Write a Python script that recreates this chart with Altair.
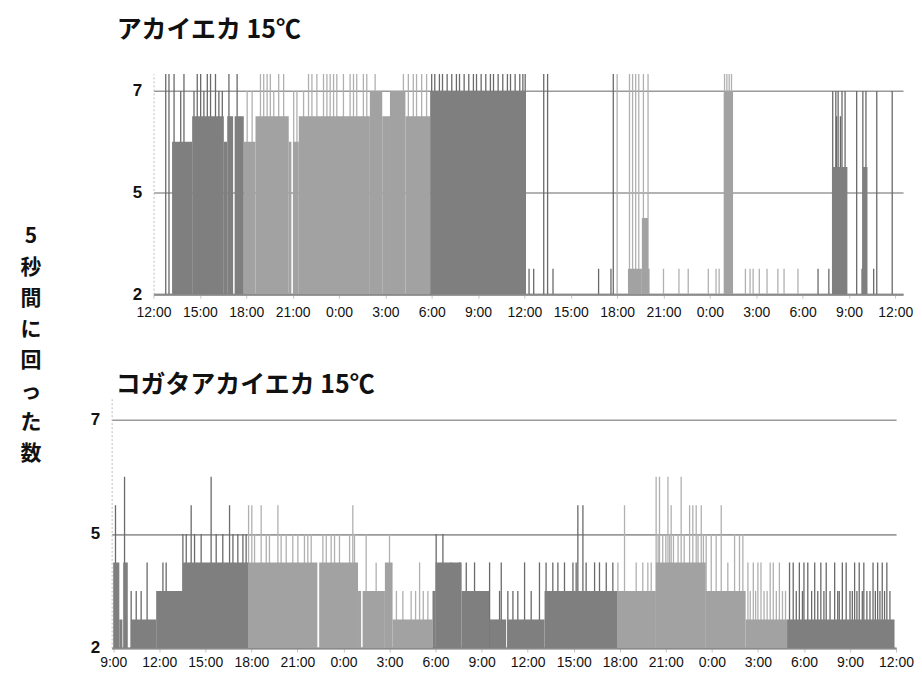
import json
import altair as alt
import pandas as pd

# ---------------- text ----------------
TOP_TITLE = "アカイエカ 15℃"
BOTTOM_TITLE = "コガタアカイエカ 15℃"
Y_TITLE_CHARS = ["5", "秒", "間", "に", "回", "っ", "た", "数"]

# y axis: quantised activity levels (0..9); labelled levels
Y_TICK_LEVELS = [0, 4, 8]
Y_TICK_LABELS = ["2", "5", "7"]

TOP_X_LABELS = ["12:00", "15:00", "18:00", "21:00", "0:00", "3:00", "6:00", "9:00", "12:00",
                "15:00", "18:00", "21:00", "0:00", "3:00", "6:00", "9:00", "12:00"]
BOTTOM_X_LABELS = ["9:00", "12:00", "15:00", "18:00", "21:00", "0:00", "3:00", "6:00", "9:00",
                   "12:00", "15:00", "18:00", "21:00", "0:00", "3:00", "6:00", "9:00", "12:00"]

# ---------------- top panel (hours after 12:00) ----------------
TOP_DAY_RANGES = [(0.0, 5.9), (17.9, 29.9), (41.9, 48.5)]
TOP_SEG_START = [1.2, 2.5, 4.55, 4.77, 5.25, 5.84, 6.6, 8.75, 9.02, 9.4, 14.0, 14.8, 15.3, 16.3, 17.9,
                 30.7, 31.6, 32.0, 36.9, 43.9, 45.8, 45.9]
TOP_SEG_END = [2.5, 4.55, 4.77, 5.15, 5.84, 6.6, 8.75, 8.92, 9.4, 14.0, 14.8, 15.3, 16.3, 17.9, 24.1,
               31.6, 32.0, 32.1, 37.5, 44.9, 45.9, 46.2]
TOP_SEG_LEVEL = [6, 7, 6, 7, 7, 6, 7, 6, 6, 7, 8, 7, 8, 7, 8,
                 1, 3, 1, 8, 5, 1, 5]
TOP_SPIKE_L9 = [0.79, 1.0, 1.33, 1.97, 2.83, 3.05, 3.48, 3.69, 4.01, 4.88, 5.41, 6.92, 7.13, 7.35, 7.56,
                8.1, 8.42, 10.03, 10.25, 10.57, 11.0, 11.22, 11.43, 11.65, 11.86, 12.29, 12.72, 12.94,
                13.15, 13.58, 13.8, 14.34, 16.17, 16.49, 16.81, 17.02, 17.35, 17.67, 18.0, 18.2, 18.5,
                18.7, 19.0, 19.3, 19.6, 19.8, 20.1, 20.4, 20.7, 20.9, 21.2, 21.5, 21.8, 22.0, 22.3,
                22.6, 22.9, 23.1, 23.4, 23.7, 23.9, 24.05, 25.25, 25.5, 29.75, 30.0, 30.8, 31.0, 31.2,
                31.4, 31.7, 32.0, 36.95, 37.1, 37.25, 37.4]
TOP_SPIKE_L8 = [1.76, 2.62, 3.26, 4.23, 4.45, 6.06, 6.38, 7.78, 9.07, 9.28, 9.71, 14.66, 15.52, 15.95,
                43.95, 44.15, 44.3, 44.55, 44.75, 45.5, 45.9, 46.1, 46.8, 47.8]
TOP_SPIKE_L7 = [44.2, 44.45]
TOP_SPIKE_L1 = [24.3, 24.6, 25.85, 28.8, 29.6, 33.0, 34.0, 34.6, 35.9, 36.4, 36.6, 38.3, 38.6, 38.8,
                39.2, 39.7, 40.4, 40.8, 41.7, 43.0, 43.7, 46.6]

# ---------------- bottom panel (hours after 9:00) ----------------
BOTTOM_DAY_RANGES = [(-0.1, 8.8), (20.8, 32.85), (43.9, 51.0)]
BOTTOM_SEG_START = [0.0, 0.4, 0.65, 1.15, 2.8, 4.55, 8.8, 13.42, 15.95, 16.25, 17.7, 18.2, 20.8, 21.0,
                    22.7, 24.5, 25.7, 28.1, 32.85, 35.35, 38.6, 41.2, 43.9]
BOTTOM_SEG_END = [0.4, 0.6, 0.95, 2.8, 4.55, 8.8, 13.3, 15.95, 16.15, 17.7, 18.2, 20.8, 21.0, 22.7,
                  24.5, 25.6, 28.1, 32.85, 35.35, 38.6, 41.2, 43.9, 50.9]
BOTTOM_SEG_LEVEL = [3, 1, 3, 1, 2, 3, 3, 3, 2, 2, 3, 1, 2, 3,
                    2, 1, 1, 2, 2, 3, 2, 1, 1]
BOTTOM_SPIKE_L6 = [0.74, 6.38, 35.37, 35.59, 36.14, 37.0]
BOTTOM_SPIKE_L5 = [0.15, 5.08, 7.58, 8.82, 9.03, 9.64, 10.73, 15.61, 30.27, 30.6, 33.31, 36.35, 37.55,
                   37.76, 37.98, 38.31, 39.61]
BOTTOM_SPIKE_L4 = [4.54, 4.76, 5.3, 5.73, 6.71, 7.14, 7.8, 8.12, 8.45, 8.66, 9.21, 9.97, 10.18, 10.94,
                   11.27, 11.7, 12.03, 12.46, 12.68, 12.9, 13.66, 13.88, 14.2, 14.42, 14.74, 15.4,
                   15.72, 16.48, 18.0, 21.04, 21.48, 35.5, 35.8, 36.0, 36.25, 36.5, 36.8, 37.2, 38.1,
                   38.45, 38.63, 38.96, 39.28, 40.48, 40.8, 41.02]
BOTTOM_SPIKE_L3 = [2.21, 3.24, 3.45, 17.13, 19.96, 22.02, 22.56, 23.0, 23.54, 24.52, 25.28, 26.8, 27.77,
                   28.2, 28.64, 28.97, 29.4, 29.95, 30.16, 30.81, 31.36, 31.68, 32.12, 32.55, 32.88,
                   34.07, 34.5, 34.83, 35.05, 40.04, 41.35, 41.7, 42.0, 42.2, 42.8, 43.0, 43.4, 44.06,
                   44.3, 44.7, 45.0, 45.25, 45.7, 46.1, 46.45, 47.0, 47.5, 47.75, 48.3, 48.6, 48.9,
                   49.5, 49.8, 50.1, 50.4]
BOTTOM_SPIKE_L2 = [1.17, 1.5, 1.82, 18.45, 18.87, 19.41, 19.7, 20.2, 20.5, 25.17, 25.71, 26.04, 26.36,
                   27.23, 41.5, 41.85, 42.4, 42.6, 43.2, 43.6, 43.8, 44.5, 44.9, 45.5, 45.9, 46.3,
                   46.7, 47.2, 47.3, 48.0, 48.15, 48.45, 48.8, 49.1, 49.3, 49.65, 49.95, 50.25, 50.6]

# ---------------- styling ----------------
SEG_COLORS = ["#7f7f7f", "#a2a2a2"]      # day, night
SPIKE_COLORS = ["#6a6a6a", "#b0b0b0"]    # day, night
JP_FONT = "Noto Sans CJK JP"
LATIN_FONT = "Liberation Sans"


def phase_of(h, ranges):
    return "day" if any(a <= h < b for a, b in ranges) else "night"


def build_panel(seg_start, seg_end, seg_level, spikes, day_ranges, x_labels, x_domain,
                width, height, y_max, title, title_dx, title_offset, y_extent, label_pad):
    seg_df = pd.DataFrame({"start": seg_start, "end": seg_end, "level": seg_level})
    seg_df["phase"] = [phase_of((s + e) / 2, day_ranges) for s, e in zip(seg_start, seg_end)]
    rows = []
    for lvl, hours in spikes:
        for h in hours:
            rows.append({"h": h, "level": lvl, "sphase": phase_of(h, day_ranges)})
    spk_df = pd.DataFrame(rows)

    xs = alt.Scale(domain=x_domain, nice=False, zero=False)
    ys = alt.Scale(domain=[0, y_max], nice=False, zero=False)
    x_axis = alt.Axis(
        values=list(range(0, 3 * len(x_labels), 3)),
        labelExpr=f"{json.dumps(x_labels, ensure_ascii=False)}[round(datum.value / 3)]",
        grid=False, domainColor="#8a8a8a", domainWidth=2, tickColor="#c4c4c4", tickSize=4,
        labelPadding=label_pad, labelFont=LATIN_FONT, labelFontSize=14, labelColor="#111111",
        labelFlush=False, title=None,
    )
    y_axis = alt.Axis(
        values=Y_TICK_LEVELS,
        labelExpr=f"{json.dumps(Y_TICK_LABELS)}[round(datum.value / 4)]",
        grid=True, gridColor="#9a9a9a", gridWidth=1.6, ticks=False,
        domainColor="#bdbdbd", domainDash=[2, 2], domainWidth=1,
        labelFont=LATIN_FONT, labelFontSize=17, labelFontWeight="bold", labelColor="#111111",
        labelPadding=12, minExtent=y_extent, maxExtent=y_extent, title=None,
    )
    spike_layer = alt.Chart(spk_df).mark_rule(strokeWidth=1.3, clip=True).encode(
        x=alt.X("h:Q", scale=xs, axis=x_axis),
        y=alt.Y("level:Q", scale=ys, axis=y_axis),
        y2=alt.datum(0),
        color=alt.Color("sphase:N", scale=alt.Scale(domain=["day", "night"], range=SPIKE_COLORS),
                        legend=None),
    )
    seg_layer = alt.Chart(seg_df).mark_rect(clip=True).encode(
        x=alt.X("start:Q", scale=xs, axis=x_axis),
        x2="end:Q",
        y=alt.Y("level:Q", scale=ys, axis=y_axis),
        y2=alt.datum(0),
        color=alt.Color("phase:N", scale=alt.Scale(domain=["day", "night"], range=SEG_COLORS),
                        legend=None),
    )
    return alt.layer(spike_layer, seg_layer).resolve_scale(color="independent").properties(
        width=width, height=height,
        title=alt.TitleParams(text=title, anchor="start", frame="group", dx=title_dx,
                              offset=title_offset, baseline="bottom", font=JP_FONT,
                              fontSize=25, fontWeight="bold", color="#111111"),
    )


top = build_panel(
    TOP_SEG_START, TOP_SEG_END, TOP_SEG_LEVEL,
    [(9, TOP_SPIKE_L9), (8, TOP_SPIKE_L8), (7, TOP_SPIKE_L7), (1, TOP_SPIKE_L1)],
    TOP_DAY_RANGES, TOP_X_LABELS, [0, 48.5], 752, 221, 8.67,
    TOP_TITLE, -37, 6, 32, 7,
)
bottom = build_panel(
    BOTTOM_SEG_START, BOTTOM_SEG_END, BOTTOM_SEG_LEVEL,
    [(6, BOTTOM_SPIKE_L6), (5, BOTTOM_SPIKE_L5), (4, BOTTOM_SPIKE_L4), (3, BOTTOM_SPIKE_L3),
     (2, BOTTOM_SPIKE_L2)],
    BOTTOM_DAY_RANGES, BOTTOM_X_LABELS, [-0.1, 51.0], 787, 251, 8.77,
    BOTTOM_TITLE, 4, -25, 50, 4,
)

# invisible spacer that shifts the upper panel to the right of the lower one
spacer = alt.Chart(pd.DataFrame({"k": [0]})).mark_point(opacity=0).encode(
    x=alt.value(0), y=alt.value(0)
).properties(width=5, height=221)

chart = alt.vconcat(
    alt.hconcat(spacer, top, spacing=0),
    bottom,
    spacing=54,
).properties(
    title=alt.TitleParams(text=Y_TITLE_CHARS, orient="left", anchor="middle", angle=0,
                          align="center", baseline="middle", lineHeight=31, offset=10, dy=-107,
                          font=JP_FONT, fontSize=21, fontWeight="bold", color="#111111"),
    padding={"left": 12, "top": 9, "right": 0, "bottom": 0},
    background="white",
).configure_view(stroke=None)

chart.save("out.html", embed_options={"renderer": "svg", "actions": False})
